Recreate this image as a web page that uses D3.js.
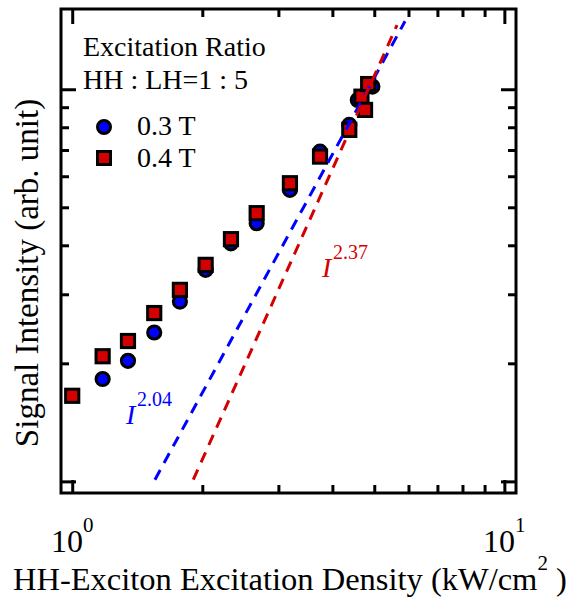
<!DOCTYPE html>
<html>
<head>
<meta charset="utf-8">
<script src="https://cdn.jsdelivr.net/npm/d3@7"></script>
<style>
body { margin: 0; background: #fff; }
text { font-family: "Liberation Serif", "Times New Roman", serif; fill: #000; }
</style>
</head>
<body>
<svg id="chart"></svg>
<script>
// 0.3 T (blue circles)
var density03 = [1.176, 1.346, 1.548, 1.775, 2.036, 2.33, 2.672, 3.19, 3.745, 4.377, 4.58, 4.95];
var signal03 = [1.824, 2.03, 2.397, 2.875, 3.463, 4.046, 4.555, 5.538, 6.934, 8.11, 9.39, 10.16];

// 0.4 T (red squares)
var density04 = [1.0, 1.176, 1.346, 1.548, 1.775, 2.036, 2.33, 2.672, 3.19, 3.745, 4.377, 4.67, 4.76, 4.84];
var signal04 = [1.653, 2.085, 2.28, 2.687, 3.079, 3.566, 4.147, 4.831, 5.759, 6.734, 7.876, 9.575, 8.858, 10.31];

// power law guide lines (end points)
var fit204x = [1.554, 5.89];
var fit204y = [1.01, 14.9];
var fit237x = [1.906, 5.645];
var fit237y = [1.01, 14.58];

var xMajor = [1, 10];
var xMinor = [2, 3, 4, 5, 6, 7, 8, 9];
var yMajor = [1, 10];
var yMinor = [2, 3, 4, 5, 6, 7, 8, 9];

var legendTitle = ["Excitation Ratio", "HH : LH=1 : 5"];
var seriesNames = ["0.3 T", "0.4 T"];

var width = 566, height = 598;
var blue = "#0000ff", red = "#d40000";

var svg = d3.select("#chart")
    .attr("width", width)
    .attr("height", height);

var x = d3.scaleLog().domain([0.942, 10.64]).range([61, 516]);
var y = d3.scaleLog().domain([0.934, 16.02]).range([493, 9]);

// inward ticks, major and minor with different lengths
function ticks(axisFn, scale, values, size, tx, ty) {
    var g = svg.append("g")
        .attr("transform", "translate(" + tx + "," + ty + ")")
        .call(axisFn(scale).tickValues(values).tickSizeInner(-size).tickSizeOuter(0).tickFormat(""));
    g.select(".domain").remove();
    g.selectAll(".tick line").attr("stroke", "#000").attr("stroke-width", 3);
    return g;
}

ticks(d3.axisBottom, x, xMajor, 13, 0, 493);
ticks(d3.axisBottom, x, xMinor, 8, 0, 493);
ticks(d3.axisTop, x, xMajor, 15, 0, 9);
ticks(d3.axisTop, x, xMinor, 8, 0, 9);
ticks(d3.axisLeft, y, yMajor, 15, 61, 0);
ticks(d3.axisLeft, y, yMinor, 8, 61, 0);
ticks(d3.axisRight, y, yMajor, 15, 516, 0);
ticks(d3.axisRight, y, yMinor, 8, 516, 0);

svg.append("rect")
    .attr("x", 61).attr("y", 9)
    .attr("width", 455).attr("height", 484)
    .attr("fill", "none")
    .attr("stroke", "#000")
    .attr("stroke-width", 3);

// x tick labels 10^n
var xl = svg.selectAll(".xlabel")
    .data(xMajor)
    .enter()
    .append("text")
    .attr("class", "xlabel")
    .attr("x", function (d) { return x(d); })
    .attr("y", 552)
    .attr("text-anchor", "middle")
    .style("font-size", "32px");
xl.append("tspan").text("10");
xl.append("tspan")
    .attr("dy", -20)
    .style("font-size", "21px")
    .text(function (d) { return Math.round(Math.log10(d)); });

// axis titles
var xt = svg.append("text")
    .attr("x", 13)
    .attr("y", 590)
    .style("font-size", "32.5px");
xt.append("tspan").text("HH-Exciton Excitation Density (kW/cm");
xt.append("tspan").attr("dy", -20).style("font-size", "21px").text("2");
xt.append("tspan").attr("dy", 20).text(" )");

svg.append("text")
    .attr("transform", "translate(38,273) rotate(-90)")
    .attr("text-anchor", "middle")
    .style("font-size", "33px")
    .text("Signal Intensity (arb. unit)");

// data
svg.selectAll(".dot03")
    .data(d3.zip(density03, signal03))
    .enter()
    .append("circle")
    .attr("class", "dot03")
    .attr("cx", function (d) { return x(d[0]); })
    .attr("cy", function (d) { return y(d[1]); })
    .attr("r", 6.6)
    .attr("fill", blue)
    .attr("stroke", "#000")
    .attr("stroke-width", 3);

svg.selectAll(".sq04")
    .data(d3.zip(density04, signal04))
    .enter()
    .append("rect")
    .attr("class", "sq04")
    .attr("x", function (d) { return x(d[0]) - 6.6; })
    .attr("y", function (d) { return y(d[1]) - 6.6; })
    .attr("width", 13.2)
    .attr("height", 13.2)
    .attr("fill", red)
    .attr("stroke", "#000")
    .attr("stroke-width", 3);

var line = d3.line()
    .x(function (d) { return x(d[0]); })
    .y(function (d) { return y(d[1]); });

svg.append("path")
    .datum(d3.zip(fit204x, fit204y))
    .attr("d", line)
    .attr("fill", "none")
    .attr("stroke", blue)
    .attr("stroke-width", 3)
    .attr("stroke-dasharray", "11,8");

svg.append("path")
    .datum(d3.zip(fit237x, fit237y))
    .attr("d", line)
    .attr("fill", "none")
    .attr("stroke", red)
    .attr("stroke-width", 3)
    .attr("stroke-dasharray", "11,8");

// exponent labels
function powLabel(px, py, exp, color) {
    svg.append("text")
        .attr("x", px).attr("y", py)
        .style("font-size", "28px")
        .style("font-style", "italic")
        .style("fill", color)
        .text("I");
    svg.append("text")
        .attr("x", px + 11).attr("y", py - 18)
        .style("font-size", "20px")
        .style("fill", color)
        .text(exp);
}
powLabel(322, 277, "2.37", red);
powLabel(126, 424, "2.04", blue);

// legend
svg.selectAll(".ltitle")
    .data(legendTitle)
    .enter()
    .append("text")
    .attr("class", "ltitle")
    .attr("x", 83)
    .attr("y", function (d, i) { return 56 + i * 33; })
    .style("font-size", "28px")
    .text(function (d) { return d; });

svg.append("circle")
    .attr("cx", 104).attr("cy", 127).attr("r", 6.5)
    .attr("fill", blue).attr("stroke", "#000").attr("stroke-width", 3);
svg.append("rect")
    .attr("x", 97.5).attr("y", 151.5).attr("width", 13).attr("height", 13)
    .attr("fill", red).attr("stroke", "#000").attr("stroke-width", 3);

svg.selectAll(".lname")
    .data(seriesNames)
    .enter()
    .append("text")
    .attr("class", "lname")
    .attr("x", 137)
    .attr("y", function (d, i) { return 135 + i * 32; })
    .style("font-size", "28px")
    .text(function (d) { return d; });
</script>
</body>
</html>
